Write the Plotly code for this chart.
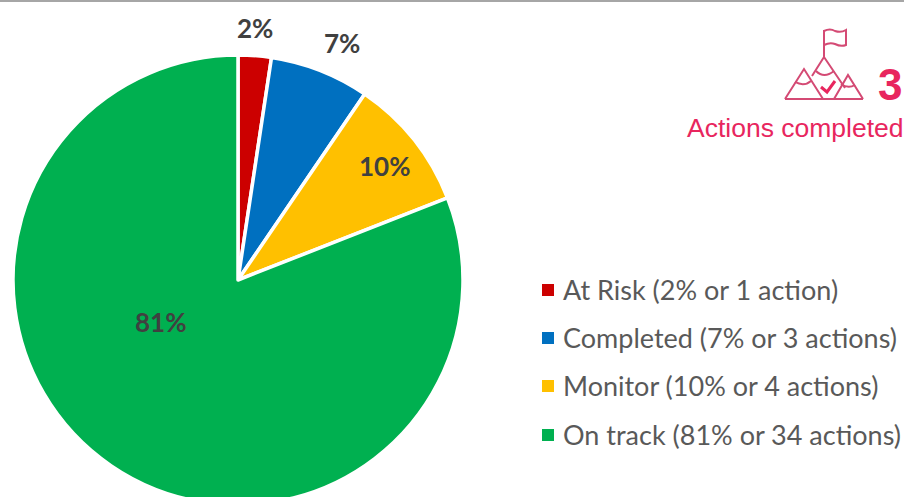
import plotly.graph_objects as go

W, H = 904, 520
categories = ["At Risk", "Completed", "Monitor", "On track"]
actions = [1, 3, 4, 34]
pct_labels = ["2%", "7%", "10%", "81%"]
legend_labels = ["At Risk (2% or 1 action)", "Completed (7% or 3 actions)",
                 "Monitor (10% or 4 actions)", "On track (81% or 34 actions)"]
colors = ["#CC0000", "#0070C0", "#FFC000", "#00B050"]
pink = "#E8265E"

def px(x): return x / W
def py(y): return 1 - y / H

fig = go.Figure(go.Pie(
    labels=categories, values=actions, sort=False, direction="clockwise", rotation=0,
    marker=dict(colors=colors, line=dict(color="white", width=3.5)),
    textinfo="none", showlegend=False, hoverinfo="label+percent",
    domain=dict(x=[px(13), px(463)], y=[py(505), py(55)]),
))

def label(x, y, text, size, color, family="Lato", xanchor="center"):
    return dict(x=px(x), y=py(y), text=text, showarrow=False, xanchor=xanchor, yanchor="middle",
                xref="paper", yref="paper", font=dict(family=family, size=size, color=color))

ann = []
for t, (x, y) in zip(pct_labels, [(255, 28), (342, 43), (384, 166), (160, 322)]):
    ann.append(label(x, y, f"<b>{t}</b>", 26, "#404040"))
shapes = [dict(type="rect", xref="paper", yref="paper", x0=0, x1=1, y0=py(2), y1=1,
               fillcolor="#A6A6A6", line_width=0)]
for t, c, y in zip(legend_labels, colors, [290, 338, 386, 435]):
    shapes.append(dict(type="rect", xref="paper", yref="paper", x0=px(542), x1=px(554),
                       y0=py(y + 6), y1=py(y - 6), fillcolor=c, line_width=0))
    ann.append(label(561, y - 1, t, 27, "#595959", xanchor="left"))

ann.append(label(904, 85, "<b>3</b>", 44, pink, "Liberation Sans", "right"))
ann.append(label(906, 128, "Actions completed", 26.5, pink, "Liberation Sans", "right"))

def path(points):
    return "M " + " L ".join(f"{px(x):.5f},{py(y):.5f}" for x, y in points)

def cpath(s):
    out = []
    for tok in s:
        out.append(tok if isinstance(tok, str) else f"{px(tok[0]):.5f},{py(tok[1]):.5f}")
    return " ".join(out)

icon = [
    path([(824, 57), (824, 30)]),
    cpath(["M", (824, 31), "Q", (830, 28), (835, 31), "Q", (841, 33), (846, 30), "L", (846, 45),
           "Q", (841, 47), (835, 44), "Q", (830, 42), (824, 45)]),
    path([(785, 99), (804, 69), (823, 99)]),
    path([(785, 99), (863, 99)]),
    path([(834, 99), (848, 75), (863, 99)]),
    path([(812, 76), (824, 57), (845, 88)]),
    cpath(["M", (795, 82), "Q", (804, 87), (811, 81)]),
    cpath(["M", (816, 71), "Q", (824, 79), (834, 71)]),
    cpath(["M", (841, 84), "Q", (848, 89), (855, 85)]),
]
for d in icon:
    shapes.append(dict(type="path", xref="paper", yref="paper", path=d, line=dict(color="#D44A74", width=2)))
shapes.append(dict(type="path", xref="paper", yref="paper", path=path([(821, 87), (827, 92), (835, 81)]),
                   line=dict(color=pink, width=3)))

fig.update_layout(width=W, height=H, margin=dict(l=0, r=0, t=0, b=0), paper_bgcolor="white",
                  annotations=ann, shapes=shapes)
fig.write_html("out.html", config={"displayModeBar": False},
               post_script="document.documentElement.style.overflow='hidden';document.body.style.overflow='hidden';document.body.style.margin='0';")
